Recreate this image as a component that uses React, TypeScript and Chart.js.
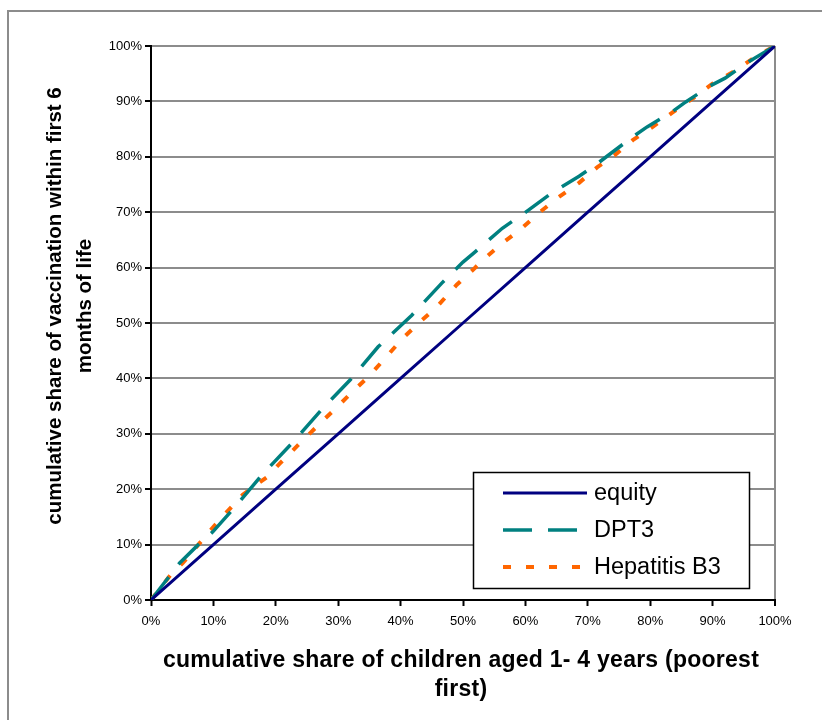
import React, { useEffect, useRef } from 'react';
import { Chart, registerables } from 'chart.js';

Chart.register(...registerables);

// ---- data ----
const seriesLabels = ['equity', 'DPT3', 'Hepatitis B3'];

const equityX = [0, 10, 20, 30, 40, 50, 60, 70, 80, 90, 100];
const equityY = [0, 10, 20, 30, 40, 50, 60, 70, 80, 90, 100];

const dpt3X = [0, 2.2, 4.6, 7.5, 9.9, 13, 17.8, 22.6, 27.6, 31.9, 36.4, 41.8, 46.6, 50, 51.9, 56.3, 59.9, 64.4, 68.6, 71.2, 77.2, 79.5, 83.5, 85.7, 89.6, 92, 95.7, 100];
const dpt3Y = [0, 3.2, 6.7, 9.9, 12.3, 16.2, 22.6, 28.3, 34.7, 39.7, 45.7, 51.4, 57.2, 61, 62.8, 67.1, 69.9, 73.6, 76.5, 78.5, 83.6, 85.4, 88.1, 89.9, 92.8, 94.2, 97.1, 100];

const hepB3X = [0, 3.4, 5.1, 10.7, 14.7, 18.6, 20.7, 24.4, 27.1, 29.8, 32.2, 35.1, 40.4, 43.4, 45.8, 49, 51.6, 53.2, 56.3, 59.1, 62.3, 65.2, 68.6, 71.6, 74, 77.2, 80.4, 83.7, 86.9, 90.1, 93.6, 96.8, 100];
const hepB3Y = [0, 4.9, 6.7, 14.1, 19, 22.2, 24.7, 28.9, 31.9, 34.8, 37.5, 40.6, 47.3, 50.5, 52.9, 56.9, 59.6, 61.4, 64.4, 66.8, 70, 72.6, 75.3, 78.2, 80, 83, 85.4, 88.1, 90.6, 93.3, 95.5, 98, 100];

const tickValues = [0, 10, 20, 30, 40, 50, 60, 70, 80, 90, 100];
const tickLabels = ['0%', '10%', '20%', '30%', '40%', '50%', '60%', '70%', '80%', '90%', '100%'];

const yTitleLines = ['cumulative share of vaccination within first 6', 'months of life'];
const xTitleLines = ['cumulative share of children aged 1- 4 years (poorest', 'first)'];

const FONT = '"Liberation Sans", Arial, sans-serif';

const toPoints = (xs: number[], ys: number[]) => xs.map((x, i) => ({ x, y: ys[i] }));

const framePlugin = {
  id: 'frame',
  beforeDraw(chart: any) {
    const ctx = chart.ctx;
    ctx.save();
    ctx.fillStyle = '#ffffff';
    ctx.fillRect(0, 0, chart.width, chart.height);
    ctx.strokeStyle = '#8c8c8c';
    ctx.lineWidth = 2;
    ctx.strokeRect(8, 11, chart.width + 20, chart.height + 20);
    ctx.restore();
  },
};

const titlesPlugin = {
  id: 'titles',
  afterDraw(chart: any) {
    const ctx = chart.ctx;
    const area = chart.chartArea;
    ctx.save();
    ctx.fillStyle = '#000';
    ctx.textAlign = 'center';
    ctx.textBaseline = 'middle';
    // y title (rotated)
    ctx.font = `bold 20.5px ${FONT}`;
    const yCenter = 306;
    const yXs = [55, 85];
    yTitleLines.forEach((line, i) => {
      ctx.save();
      ctx.translate(yXs[i], yCenter);
      ctx.rotate(-Math.PI / 2);
      ctx.fillText(line, 0, 0);
      ctx.restore();
    });
    // x title
    ctx.font = `bold 23px ${FONT}`;
    try { (ctx as any).letterSpacing = '0.25px'; } catch (e) { /* ignore */ }
    const xCenter = (area.left + area.right) / 2 - 2;
    const xYs = [661, 690];
    xTitleLines.forEach((line, i) => {
      ctx.fillText(line, xCenter, xYs[i]);
    });
    try { (ctx as any).letterSpacing = '0px'; } catch (e) { /* ignore */ }
    ctx.restore();
  },
};

const legendPlugin = {
  id: 'boxLegend',
  afterDatasetsDraw(chart: any) {
    const ctx = chart.ctx;
    const bx = 473.5, by = 472.5, bw = 276, bh = 116;
    ctx.save();
    ctx.fillStyle = '#ffffff';
    ctx.fillRect(bx, by, bw, bh);
    ctx.strokeStyle = '#000';
    ctx.lineWidth = 1.5;
    ctx.strokeRect(bx, by, bw, bh);
    const rows = [493, 530, 567];
    chart.data.datasets.forEach((ds: any, i: number) => {
      const y = rows[i];
      ctx.beginPath();
      ctx.strokeStyle = ds.borderColor;
      ctx.lineWidth = ds.borderWidth;
      ctx.setLineDash(ds.borderDash || []);
      ctx.moveTo(503, y);
      ctx.lineTo(587, y);
      ctx.stroke();
      ctx.setLineDash([]);
      ctx.fillStyle = '#000';
      ctx.font = `23.5px ${FONT}`;
      ctx.textAlign = 'left';
      ctx.textBaseline = 'middle';
      ctx.fillText(ds.label, 594, y + 1);
    });
    ctx.restore();
  },
};

export default function App() {
  const ref = useRef<HTMLCanvasElement | null>(null);

  useEffect(() => {
    if (!ref.current) return;
    const chart = new Chart(ref.current, {
      type: 'line',
      data: {
        datasets: [
          {
            label: seriesLabels[0],
            data: toPoints(equityX, equityY),
            borderColor: '#000080',
            borderWidth: 3,
            borderDash: [],
            pointRadius: 0,
            tension: 0,
            fill: false,
          },
          {
            label: seriesLabels[1],
            data: toPoints(dpt3X, dpt3Y),
            borderColor: '#008080',
            borderWidth: 3.5,
            borderDash: [29, 16],
            pointRadius: 0,
            tension: 0,
            fill: false,
          },
          {
            label: seriesLabels[2],
            data: toPoints(hepB3X, hepB3Y),
            borderColor: '#ff6600',
            borderWidth: 4,
            borderDash: [8, 15],
            pointRadius: 0,
            tension: 0,
            fill: false,
          },
        ],
      },
      options: {
        responsive: false,
        animation: false,
        devicePixelRatio: 1,
        layout: { padding: { left: 0, right: 47, top: 46, bottom: 0 } },
        plugins: {
          legend: { display: false },
          tooltip: { enabled: false },
          title: { display: false },
        },
        scales: {
          x: {
            type: 'linear',
            min: 0,
            max: 100,
            afterFit: (scale: any) => { scale.height = 120; },
            afterBuildTicks: (scale: any) => { scale.ticks = tickValues.map((v) => ({ value: v })); },
            ticks: {
              autoSkip: false,
              maxRotation: 0,
              padding: 8,
              color: '#000',
              font: { family: FONT, size: 13 },
              callback: (v: any) => tickLabels[tickValues.indexOf(Number(v))] ?? '',
            },
            grid: {
              drawOnChartArea: true,
              color: (c: any) => (c.tick && c.tick.value === 100 ? '#8c8c8c' : 'rgba(0,0,0,0)'),
              lineWidth: (c: any) => (c.tick && c.tick.value === 100 ? 2 : 1),
              tickColor: '#000',
              tickLength: 6,
              tickWidth: 2,
            },
            border: { display: true, color: '#000', width: 2 },
          },
          y: {
            type: 'linear',
            min: 0,
            max: 100,
            afterFit: (scale: any) => { scale.width = 151; },
            afterBuildTicks: (scale: any) => { scale.ticks = tickValues.map((v) => ({ value: v })); },
            ticks: {
              autoSkip: false,
              padding: 3,
              color: '#000',
              font: { family: FONT, size: 13 },
              callback: (v: any) => tickLabels[tickValues.indexOf(Number(v))] ?? '',
            },
            grid: {
              color: '#8c8c8c',
              lineWidth: 2,
              tickColor: '#000',
              tickLength: 6,
              tickWidth: 2,
            },
            border: { display: true, color: '#000', width: 2 },
          },
        },
      },
      plugins: [framePlugin, titlesPlugin, legendPlugin],
    });
    return () => chart.destroy();
  }, []);

  return (
    <canvas
      ref={ref}
      width={822}
      height={720}
      style={{ position: 'absolute', left: 0, top: 0, width: 822, height: 720 }}
    />
  );
}
